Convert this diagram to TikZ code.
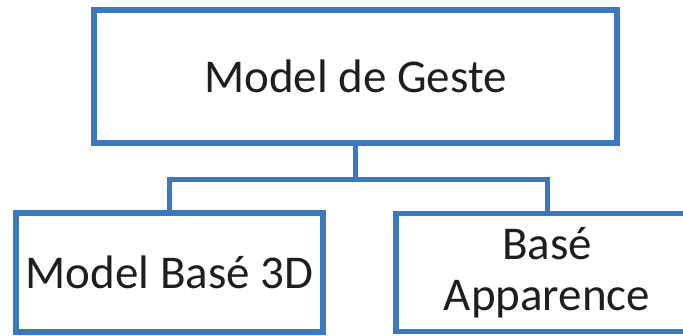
\documentclass[tikz,border=0pt]{standalone}
\usepackage{fontspec}
\setmainfont{Carlito}
\definecolor{boxblue}{HTML}{3A78C0}
\definecolor{ink}{HTML}{1E1E1E}
\tikzset{
  boxnode/.style={draw=boxblue, line width=5.5pt, rectangle, inner sep=0pt,
    text=ink, font=\fontsize{47}{51}\selectfont, align=center},
  link/.style={draw=boxblue, line width=5pt, line join=miter}
}
\begin{document}
\begin{tikzpicture}[x=1pt,y=-1pt]
\useasboundingbox (0,0) rectangle (683,335);
\clip (0,0) rectangle (683,335);
\node[boxnode, minimum width=523pt, minimum height=133pt] (top) at (355.5,76.5) {Model de Geste};
\node[boxnode, minimum width=307pt, minimum height=119pt] (left) at (169.5,272.5) {Model Basé 3D};
\node[boxnode, minimum width=302pt, minimum height=118pt] (right) at (547,272.5) {Basé\\Apparence};
\coordinate (j) at (355.5,179);
\draw[link] (top.south) -- (j);
\draw[link] (left.north) |- (j) -| (right.north);
\end{tikzpicture}
\end{document}
